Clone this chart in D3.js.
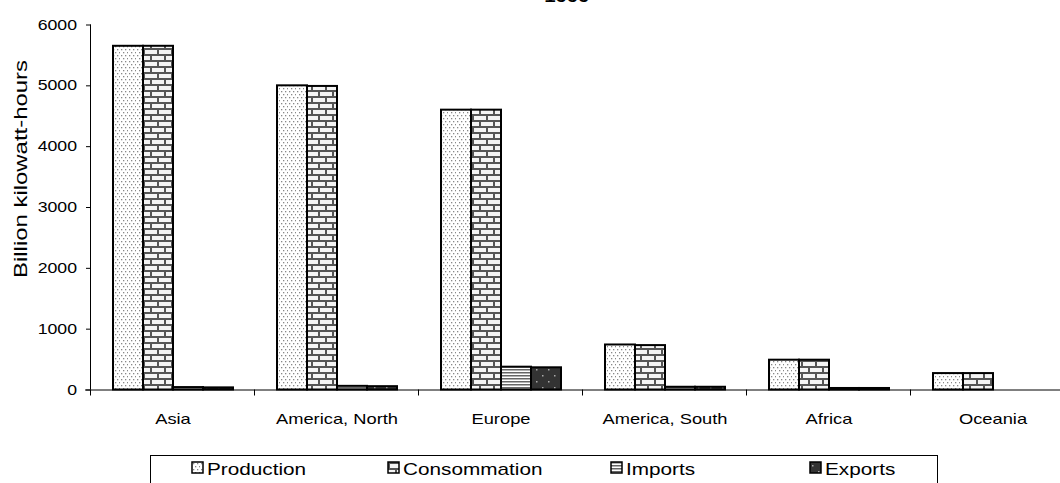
<!DOCTYPE html>
<html><head><meta charset="utf-8">
<script src="https://cdn.jsdelivr.net/npm/d3@7"></script>
<style>body{margin:0;background:#fff}svg{display:block;font-family:"Liberation Sans",Arial,sans-serif}</style>
</head><body>
<svg id="c" width="1060" height="483"></svg>
<script>
const categories = ["Asia","America, North","Europe","America, South","Africa","Oceania"];
const seriesNames = ["Production","Consommation","Imports","Exports"];
const production   = [5650, 5000, 4600, 740, 490, 270];
const consommation = [5650, 4990, 4600, 730, 490, 270];
const imports      = [40, 60, 375, 45, 25, 0];
const exports      = [35, 55, 365, 45, 25, 0];
const yTicks = [0,1000,2000,3000,4000,5000,6000];
const title = "1999";
const yLabel = "Billion kilowatt-hours";

const values = [production, consommation, imports, exports];
const svg = d3.select("#c");
const defs = svg.append("defs");

// stretch text horizontally along its baseline
function stretch(sel, f){
  sel.each(function(){
    const L = this.getComputedTextLength();
    d3.select(this).attr("textLength", L*f).attr("lengthAdjust","spacingAndGlyphs");
  });
}

// patterns
const pDot = defs.append("pattern").attr("id","pat0").attr("patternUnits","userSpaceOnUse").attr("width",8).attr("height",6);
pDot.append("rect").attr("width",8).attr("height",6).attr("fill","#fff");
[[1,1],[5,1],[3,4],[7,4]].forEach(([px,py])=>pDot.append("rect").attr("x",px).attr("y",py).attr("width",1.3).attr("height",1.3).attr("fill","#888"));

const pBrick = defs.append("pattern").attr("id","pat1").attr("patternUnits","userSpaceOnUse").attr("width",14).attr("height",12);
pBrick.append("rect").attr("width",14).attr("height",12).attr("fill","#f4f4f4");
pBrick.append("rect").attr("y",0).attr("width",14).attr("height",2).attr("fill","#555");
pBrick.append("rect").attr("y",6).attr("width",14).attr("height",2).attr("fill","#555");
pBrick.append("rect").attr("x",3).attr("y",0).attr("width",2).attr("height",6).attr("fill","#555");
pBrick.append("rect").attr("x",10).attr("y",6).attr("width",2).attr("height",6).attr("fill","#555");

const pStripe = defs.append("pattern").attr("id","pat2").attr("patternUnits","userSpaceOnUse").attr("width",4).attr("height",3);
pStripe.append("rect").attr("width",4).attr("height",3).attr("fill","#fff");
pStripe.append("rect").attr("width",4).attr("height",1.5).attr("fill","#666");

const pDark = defs.append("pattern").attr("id","pat3").attr("patternUnits","userSpaceOnUse").attr("width",12).attr("height",12);
pDark.append("rect").attr("width",12).attr("height",12).attr("fill","#333");
[[2,3],[8,9]].forEach(([px,py])=>pDark.append("rect").attr("x",px).attr("y",py).attr("width",1.5).attr("height",1.5).attr("fill","#aaa"));

const mLeft = 91, mTop = 24.5, mBottom = 389.5, step = 164;
const y = d3.scaleLinear().domain([0,6000]).range([mBottom, mTop]);
const x0 = d3.scaleBand().domain(categories).range([mLeft, mLeft + step*categories.length]).padding(0);
const x1 = d3.scaleBand().domain(seriesNames).range([22, 142]).padding(0);

// title (clipped at top in reference)
const tt = svg.append("text").attr("x",567).attr("y",1.5).attr("text-anchor","middle")
  .attr("font-size",17).attr("font-weight","bold").attr("fill","#000").text(title);
stretch(tt, 1.2);

// bars
categories.forEach((c,ci)=>{
  seriesNames.forEach((s,si)=>{
    const v = values[si][ci];
    if (v <= 0) return;
    svg.append("rect")
      .attr("x", x0(c) + x1(s))
      .attr("y", y(v))
      .attr("width", x1.bandwidth())
      .attr("height", y(0) - y(v))
      .attr("fill", `url(#pat${si})`)
      .attr("stroke","#000").attr("stroke-width",2);
  });
});

// y axis
const yAxis = d3.axisLeft(y).tickValues(yTicks).tickSize(5).tickPadding(9).tickFormat(d3.format("d"));
const gy = svg.append("g").attr("transform",`translate(${mLeft},0)`).call(yAxis);
gy.select(".domain").attr("d",`M-0.5,${mTop}V${mBottom}`).attr("stroke","#000");
gy.selectAll(".tick line").attr("stroke","#000");
gy.selectAll("text").attr("font-size",14.5).attr("fill","#000").attr("font-family","Liberation Sans, Arial, sans-serif");
stretch(gy.selectAll("text"), 1.22);

// x axis
const gx = svg.append("g").attr("transform",`translate(0,${mBottom})`);
gx.append("line").attr("x1",mLeft-6).attr("x2",1075).attr("y1",0.5).attr("y2",0.5).attr("stroke","#000");
const boundaries = d3.range(categories.length+1).map(i=> mLeft + i*step);
gx.selectAll(".tk").data(boundaries).enter().append("line")
  .attr("x1",d=>d-0.5).attr("x2",d=>d-0.5).attr("y1",0).attr("y2",6).attr("stroke","#000");
const cl = gx.selectAll(".lb").data(categories).enter().append("text")
  .attr("x",d=>x0(d)+x0.bandwidth()/2).attr("y",34)
  .attr("text-anchor","middle").attr("font-size",15).attr("fill","#000").text(d=>d);
stretch(cl, 1.22);

// y label
const yl = svg.append("text").attr("transform","translate(27,169) rotate(-90)")
  .attr("text-anchor","middle").attr("font-size",19).attr("fill","#000").text(yLabel);
yl.attr("textLength",218).attr("lengthAdjust","spacingAndGlyphs");

// legend
svg.append("rect").attr("x",150.5).attr("y",455.5).attr("width",787).attr("height",40)
  .attr("fill","#fff").attr("stroke","#000");
const legX = [192, 388, 611, 810];
seriesNames.forEach((s,i)=>{
  svg.append("rect").attr("x",legX[i]).attr("y",462).attr("width",11).attr("height",11)
    .attr("fill",`url(#pat${i})`).attr("stroke","#000").attr("stroke-width",1.5);
  const t = svg.append("text").attr("x",legX[i]+15).attr("y",474.5).attr("font-size",17).attr("fill","#000").text(s);
  stretch(t, 1.22);
});
</script>
</body></html>
